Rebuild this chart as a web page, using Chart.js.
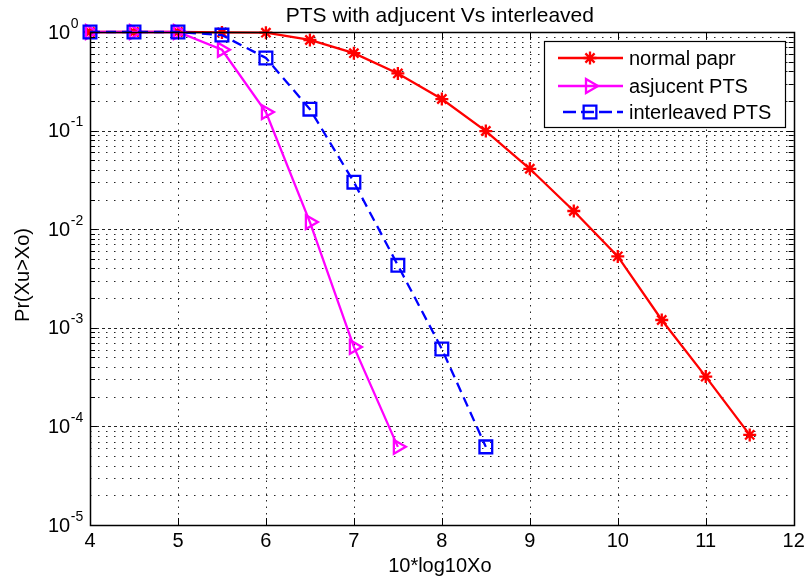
<!DOCTYPE html>
<html>
<head>
<meta charset="utf-8">
<title>PTS with adjucent Vs interleaved</title>
<script src="https://cdn.jsdelivr.net/npm/chart.js@4.4.0/dist/chart.umd.min.js"></script>
<style>
  html, body { margin: 0; padding: 0; background: #fff; }
  #wrap { width: 805px; height: 579px; }
</style>
</head>
<body>
<div id="wrap"><canvas id="ccdf" width="805" height="579"></canvas></div>
<script>
// CCDF of PAPR: threshold in dB (10*log10 Xo) vs Pr(Xu > Xo)
const thresholdsDb = [4, 4.5, 5, 5.5, 6, 6.5, 7, 7.5, 8, 8.5, 9, 9.5, 10, 10.5, 11, 11.5];
const normalPapr = [1, 1, 1, 0.99, 0.984, 0.83, 0.61, 0.38, 0.209, 0.099, 0.041, 0.0153, 0.0053, 0.0012, 0.00032, 0.000082];
const adjacentPts = [1, 1, 1, 0.66, 0.154, 0.0118, 0.00064, 0.000062];
const interleavedPts = [1, 1, 1, 0.93, 0.545, 0.165, 0.030, 0.0043, 0.00061, 0.000062];

const seriesNames = ['normal papr', 'asjucent PTS', 'interleaved PTS'];
const titleText = 'PTS with adjucent Vs interleaved';
const xAxisTitle = '10*log10Xo';
const yAxisTitle = 'Pr(Xu>Xo)';

const xTicks = [4, 5, 6, 7, 8, 9, 10, 11, 12];
const yDecadeExponents = [0, -1, -2, -3, -4, -5];

const FONT = '"Liberation Sans", Arial, Helvetica, sans-serif';

function toPoints(values) {
  return values.map((v, i) => ({ x: thresholdsDb[i], y: v }));
}

const styles = [
  { color: '#ff0000', pointStyle: 'star', radius: 6.5, rotation: 0, dash: [] },
  { color: '#ff00ff', pointStyle: 'triangle', radius: 8, rotation: 90, dash: [] },
  { color: '#0000ff', pointStyle: 'rect', radius: 9, rotation: 0, dash: [10, 6] }
];

function makeDataset(label, values, st, order) {
  return {
    label: label,
    data: toPoints(values),
    borderColor: st.color,
    backgroundColor: 'rgba(0,0,0,0)',
    borderWidth: 2.3,
    borderDash: st.dash,
    pointStyle: st.pointStyle,
    pointRadius: st.radius,
    pointRotation: st.rotation,
    pointBorderColor: st.color,
    pointBackgroundColor: 'rgba(0,0,0,0)',
    pointBorderWidth: 2.3,
    tension: 0,
    fill: false,
    clip: false,
    order: order
  };
}

function paintMarker(ctx, st, x, y) {
  if (Chart.helpers && Chart.helpers.drawPoint) {
    ctx.save();
    ctx.strokeStyle = st.color;
    ctx.fillStyle = 'rgba(0,0,0,0)';
    ctx.lineWidth = 2.3;
    ctx.setLineDash([]);
    Chart.helpers.drawPoint(ctx, { pointStyle: st.pointStyle, radius: st.radius, rotation: st.rotation, borderWidth: 2.3 }, x, y);
    ctx.restore();
  }
}

// Axes box, inside ticks, dotted grid, tick labels, titles and legend
const matlabAxes = {
  id: 'matlabAxes',
  beforeDatasetsDraw(chart) {
    const { ctx, chartArea: a, scales } = chart;
    const xs = scales.x, ys = scales.y;
    ctx.save();
    ctx.strokeStyle = 'rgba(0,0,0,0.85)';
    ctx.lineWidth = 1;
    // vertical grid
    ctx.setLineDash([1.5, 5]);
    xTicks.forEach(t => {
      if (t === xTicks[0] || t === xTicks[xTicks.length - 1]) return;
      const px = Math.round(xs.getPixelForValue(t)) + 0.5;
      ctx.beginPath(); ctx.moveTo(px, a.top); ctx.lineTo(px, a.bottom); ctx.stroke();
    });
    // horizontal grid (decades + minor)
    yDecadeExponents.forEach(e => {
      for (let m = 1; m <= 9; m++) {
        const v = m * Math.pow(10, e);
        if (v > 1 + 1e-12 || v < 1e-5 - 1e-18) continue;
        if ((e === 0 && m === 1) || (e === -5 && m === 1)) continue;
        const py = Math.round(ys.getPixelForValue(v)) + 0.5;
        ctx.setLineDash(m === 1 ? [3, 3] : [1.5, 6.5]);
        ctx.beginPath(); ctx.moveTo(a.left, py); ctx.lineTo(a.right, py); ctx.stroke();
      }
    });
    ctx.restore();
  },
  afterDatasetsDraw(chart) {
    const { ctx, chartArea: a, scales } = chart;
    const xs = scales.x, ys = scales.y;
    ctx.save();
    ctx.setLineDash([]);
    ctx.strokeStyle = '#000';
    ctx.lineWidth = 1.5;
    ctx.strokeRect(Math.round(a.left) + 0.5, Math.round(a.top) + 0.5, Math.round(a.right - a.left), Math.round(a.bottom - a.top));
    ctx.lineWidth = 1;
    // x ticks inside, top and bottom
    xTicks.forEach(t => {
      const px = Math.round(xs.getPixelForValue(t)) + 0.5;
      ctx.beginPath();
      ctx.moveTo(px, a.bottom); ctx.lineTo(px, a.bottom - 7);
      ctx.moveTo(px, a.top); ctx.lineTo(px, a.top + 7);
      ctx.stroke();
    });
    // y ticks inside, left and right
    yDecadeExponents.forEach(e => {
      for (let m = 1; m <= 9; m++) {
        const v = m * Math.pow(10, e);
        if (v > 1 + 1e-12) continue;
        if (e === -5 && m > 1) continue;
        const len = m === 1 ? 7 : 5;
        const py = Math.round(ys.getPixelForValue(v)) + 0.5;
        ctx.beginPath();
        ctx.moveTo(a.left, py); ctx.lineTo(a.left + len, py);
        ctx.moveTo(a.right, py); ctx.lineTo(a.right - len, py);
        ctx.stroke();
      }
    });

    ctx.fillStyle = '#000';
    // x tick labels
    ctx.font = '20px ' + FONT;
    ctx.textAlign = 'center';
    ctx.textBaseline = 'alphabetic';
    xTicks.forEach(t => {
      ctx.fillText(String(t), xs.getPixelForValue(t), 547);
    });
    // y tick labels 10^n
    yDecadeExponents.forEach(e => {
      const py = ys.getPixelForValue(Math.pow(10, e));
      ctx.textAlign = 'left';
      ctx.font = '20px ' + FONT;
      ctx.fillText('10', 48, py + 6.5);
      const w = ctx.measureText('10').width;
      ctx.font = '14px ' + FONT;
      ctx.fillText(e === 0 ? '0' : '-' + Math.abs(e), 48 + w + 0.5, py - 4.5);
    });
    // title
    ctx.font = '21px ' + FONT;
    ctx.textAlign = 'center';
    ctx.fillText(titleText, (a.left + a.right) / 2 - 2, 22);
    // x axis title
    ctx.font = '20px ' + FONT;
    ctx.fillText(xAxisTitle, (a.left + a.right) / 2 - 2, 572);
    // y axis title
    ctx.save();
    ctx.translate(29, 275);
    ctx.rotate(-Math.PI / 2);
    ctx.fillText(yAxisTitle, 0, 0);
    ctx.restore();

    // legend
    const lx = 544, ly = 41, lw = 241, lh = 86;
    ctx.fillStyle = '#fff';
    ctx.fillRect(lx, ly, lw, lh);
    ctx.strokeStyle = '#000';
    ctx.lineWidth = 1.2;
    ctx.strokeRect(lx + 0.5, ly + 0.5, lw, lh);
    const rows = [58, 86, 112];
    seriesNames.forEach((name, i) => {
      const st = styles[i];
      const y = rows[i];
      ctx.save();
      ctx.strokeStyle = st.color;
      ctx.lineWidth = 2.3;
      ctx.setLineDash(i === 2 ? [13, 5] : []);
      ctx.lineDashOffset = i === 2 ? -5 : 0;
      ctx.beginPath(); ctx.moveTo(558, y); ctx.lineTo(623, y); ctx.stroke();
      ctx.restore();
      paintMarker(ctx, st, 590, y);
      ctx.fillStyle = '#000';
      ctx.font = '20px ' + FONT;
      ctx.textAlign = 'left';
      ctx.textBaseline = 'middle';
      ctx.fillText(name, 629, y + 1);
      ctx.textBaseline = 'alphabetic';
    });
    ctx.restore();
  }
};

new Chart(document.getElementById('ccdf'), {
  type: 'line',
  data: {
    datasets: [
      makeDataset(seriesNames[0], normalPapr, styles[0], 2),
      makeDataset(seriesNames[1], adjacentPts, styles[1], 1),
      makeDataset(seriesNames[2], interleavedPts, styles[2], 0)
    ]
  },
  options: {
    responsive: false,
    animation: false,
    devicePixelRatio: 1,
    layout: { padding: { left: 0, right: 10, top: 32, bottom: 0 } },
    plugins: {
      legend: { display: false },
      title: { display: false },
      tooltip: { enabled: false }
    },
    scales: {
      x: {
        type: 'linear',
        min: 4,
        max: 12,
        grid: { display: false },
        border: { display: false },
        ticks: { display: false },
        afterFit(s) { s.height = 54; }
      },
      y: {
        type: 'logarithmic',
        min: 1e-5,
        max: 1,
        grid: { display: false },
        border: { display: false },
        ticks: { display: false },
        afterFit(s) { s.width = 90; }
      }
    }
  },
  plugins: [matlabAxes]
});
</script>
</body>
</html>
